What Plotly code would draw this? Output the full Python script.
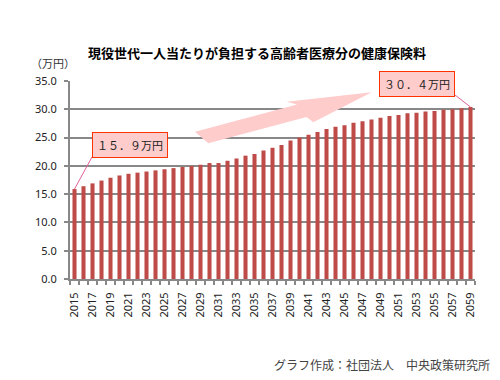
import plotly.graph_objects as go

years = list(range(2015, 2060))
premium = [15.9, 16.4, 16.9, 17.4, 17.9, 18.3, 18.6, 18.8, 19.0, 19.2,
           19.4, 19.6, 19.8, 20.0, 20.2, 20.5, 20.5, 20.9, 21.3, 21.8,
           22.1, 22.7, 23.2, 23.7, 24.5, 25.0, 25.5, 26.0, 26.5, 26.9,
           27.2, 27.6, 27.9, 28.2, 28.5, 28.8, 29.0, 29.3, 29.4, 29.6,
           29.7, 29.9, 30.0, 30.2, 30.4]
label_years = years[::2]
label_text = [str(y) for y in label_years]
first_label = "１５．９万円"
last_label = "３０．４万円"
title_text = "現役世代一人当たりが負担する高齢者医療分の健康保険料"
unit_text = "（万円）"
source_text = "グラフ作成：社団法人　中央政策研究所"

# page body has an 8px margin; the figure is sized/positioned to compensate
OFF = 8
W, H = 500 - 2 * OFF, 380 - 2 * OFF
PL, PT, PR, PB = 70, 81, 475, 279          # plot area in screen pixels
L, T = PL - OFF, PT - OFF
pw, ph = PR - PL, PB - PT
R, B = W - L - pw, H - T - ph

def px(x):
    return (x - PL) / pw

def py(y):
    return (PB - y) / ph

def dx(x):  # screen pixel -> data x
    return years[0] - 0.5 + (x - PL) / (pw / len(years))

def dy(y):  # screen pixel -> data y
    return (PB - y) / ph * 35

grid = "#888888"
jp = "Noto Sans CJK JP"
centered = dict(xref="paper", yref="paper", xanchor="center", yanchor="middle",
                showarrow=False)

fig = go.Figure()
fig.add_trace(go.Bar(x=years, y=premium, marker_color="#BE4B48",
                     marker_line_width=0, hoverinfo="x+y"))

# decorative arrow
pts = [(195, 131.7), (297, 104.6), (286.7, 101.7), (371.7, 92.3),
       (313.3, 122.3), (306.5, 117.0), (208.3, 143.3)]
path = "M " + " L ".join(f"{px(a):.4f},{py(b):.4f}" for a, b in pts) + " Z"
fig.add_shape(type="path", path=path, xref="paper", yref="paper",
              fillcolor="#FFCCCC", line_width=0, layer="above")

# connector lines
fig.add_shape(type="line", xref="x", yref="y", x0=years[0], y0=premium[0],
              x1=dx(92), y1=dy(157), line=dict(color="#E0609A", width=1))
fig.add_shape(type="line", xref="x", yref="y", x0=years[-1], y0=premium[-1],
              x1=dx(455), y1=dy(95), line=dict(color="#E0609A", width=1))

box = dict(bgcolor="#FFCCCC", bordercolor="#FF3300", borderwidth=1,
           borderpad=4, font=dict(family=jp, size=11, color="#222"), **centered)
fig.add_annotation(text=first_label, x=px(129.5), y=py(145), **box)
fig.add_annotation(text=last_label, x=px(416.5), y=py(83.5), **box)

fig.add_annotation(text="<b>" + title_text + "</b>", x=px(256.5), y=py(52.5),
                   font=dict(family=jp, size=13, color="#000"), **centered)
fig.add_annotation(text=unit_text, x=px(53), y=py(63.5),
                   font=dict(family=jp, size=11, color="#333"), **centered)
fig.add_annotation(text=source_text, x=px(381.5), y=py(364),
                   font=dict(family=jp, size=12, color="#444"), **centered)

fig.update_layout(
    width=W, height=H,
    margin=dict(l=L, r=R, t=T, b=B, pad=0),
    paper_bgcolor="white", plot_bgcolor="white",
    showlegend=False, bargap=0.55,
    font=dict(family="Noto Sans", size=11, color="#222"),
)
fig.update_xaxes(type="linear", range=[years[0] - 0.5, years[-1] + 0.5],
                 tickvals=label_years, ticktext=label_text, tickangle=-90,
                 ticks="", ticklabelstandoff=7, showgrid=False, zeroline=False,
                 showline=True, linecolor=grid, linewidth=2,
                 minor=dict(ticks="outside", dtick=1, tick0=years[0] - 0.5,
                            ticklen=4, tickcolor=grid, tickwidth=2),
                 tickfont=dict(family="Noto Sans", size=11, color="#222"),
                 automargin=False, fixedrange=True)
fig.update_yaxes(range=[0, 35], dtick=5, tickformat=".1f",
                 showgrid=True, gridcolor=grid, gridwidth=2,
                 zeroline=False, showline=True, linecolor=grid, linewidth=2,
                 ticks="outside", ticklen=4, tickcolor=grid, tickwidth=2,
                 ticklabelstandoff=5,
                 tickfont=dict(family="Noto Sans", size=11, color="#222"),
                 automargin=False, fixedrange=True)

fig.write_html("out.html")
